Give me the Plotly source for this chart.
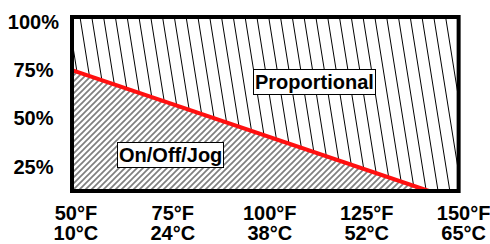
import plotly.graph_objects as go

# ---- data ----
temp_f = [50, 75, 100, 125, 150]
tick_f = ["50°F", "75°F", "100°F", "125°F", "150°F"]
tick_c = ["10°C", "24°C", "38°C", "52°C", "65°C"]
pct_vals = [25, 50, 75, 100]
pct_text = ["25%\u00a0", "50%\u00a0", "75%\u00a0", "100%"]

# boundary between On/Off/Jog and Proportional
bound_x = [49, 141]
bound_y = [75, 12.3]

x_frame = [49, 148.7]      # chart box (°F)
x_range = [49, 150.6]      # axis range (labels reach past the box)
y_range = [12.3, 102.6]

FONT = "Liberation Sans, Arial, sans-serif"

# ---- layout geometry (pixels) ----
W, H = 490, 244
xs = 97 / 25.0
ml, mt, mb = 72, 17, 53
pw = (x_range[1] - x_range[0]) * xs
mr = W - ml - pw
ph = H - mt - mb
ys = ph / (y_range[1] - y_range[0])
frame_right = (x_frame[1] - x_range[0]) / (x_range[1] - x_range[0])

# ---- steep hatch lines for the upper (Proportional) region ----
spacing = 11.8 / xs
k = 0.16 * ys / xs          # x shift per unit of y going down
slope = (bound_y[1] - bound_y[0]) / (bound_x[1] - bound_x[0])
ytop = y_range[1] + 2
xr = x_frame[1]
hx, hy = [], []
x_first = x_frame[0] + (80 - ml) / xs
i = -12
while True:
    xt = x_first + i * spacing
    i += 1
    x0 = xt - k * (ytop - y_range[1])
    if x0 > xr:
        break
    c = x0 + k * ytop
    yi = (bound_y[0] + slope * (c - bound_x[0])) / (1 + slope * k)
    if yi < y_range[0]:
        yi = y_range[0] - 2
    xi = c - k * yi
    if xi > xr:
        xi = xr
        yi = ytop - (xr - x0) / k
    if yi >= ytop:
        continue
    hx += [x0, xi, None]
    hy += [ytop, yi, None]

fig = go.Figure()
fig.add_trace(go.Scatter(x=hx, y=hy, mode="lines",
                         line=dict(color="black", width=1),
                         hoverinfo="skip", showlegend=False))
fig.add_trace(go.Scatter(x=bound_x, y=bound_y, mode="lines", fill="tozeroy",
                         fillcolor="white",
                         fillpattern=dict(shape="/", fgcolor="black", bgcolor="white",
                                          size=4.2426, solidity=0.4),
                         line=dict(color="#ff1010", width=4),
                         hoverinfo="skip", showlegend=False))
fig.add_trace(go.Scatter(x=x_range, y=[None, None], xaxis="x2", mode="lines",
                         showlegend=False, hoverinfo="skip"))

axis_common = dict(showgrid=False, zeroline=False, showline=False, ticks="",
                   fixedrange=True, automargin=False)
fig.update_layout(
    width=W, height=H,
    margin=dict(l=ml, r=mr, t=mt, b=mb, pad=0),
    paper_bgcolor="white", plot_bgcolor="white",
    font=dict(family=FONT, size=20, color="black", weight="bold"),
    xaxis=dict(range=x_range, tickmode="array", tickvals=temp_f, ticktext=tick_f,
               ticklabelstandoff=8, ticklabeloverflow="allow", **axis_common),
    xaxis2=dict(range=x_range, tickmode="array", tickvals=temp_f, ticktext=tick_c,
                overlaying="x", anchor="y", side="bottom",
                ticklabelstandoff=28, ticklabeloverflow="allow", **axis_common),
    yaxis=dict(range=y_range, tickmode="array", tickvals=pct_vals, ticktext=pct_text,
               ticklabelstandoff=12, **axis_common),
    shapes=[dict(type="rect", xref="paper", yref="paper", x0=0, x1=frame_right,
                 y0=0, y1=1, line=dict(color="black", width=4), layer="above")],
    annotations=[
        dict(x=74.4, y=31.2, text="On/Off/Jog", showarrow=False,
             bgcolor="white", bordercolor="black", borderwidth=1, borderpad=1,
             font=dict(family=FONT, size=20, color="black", weight="bold")),
        dict(x=111.6, y=69.1, text="Proportional", showarrow=False,
             bgcolor="white", bordercolor="black", borderwidth=1, borderpad=1,
             font=dict(family=FONT, size=20, color="black", weight="bold")),
    ],
)

fig.write_html("out.html", config={"displayModeBar": False},
               post_script="document.body.style.margin='0px';document.body.style.overflow='hidden';")
